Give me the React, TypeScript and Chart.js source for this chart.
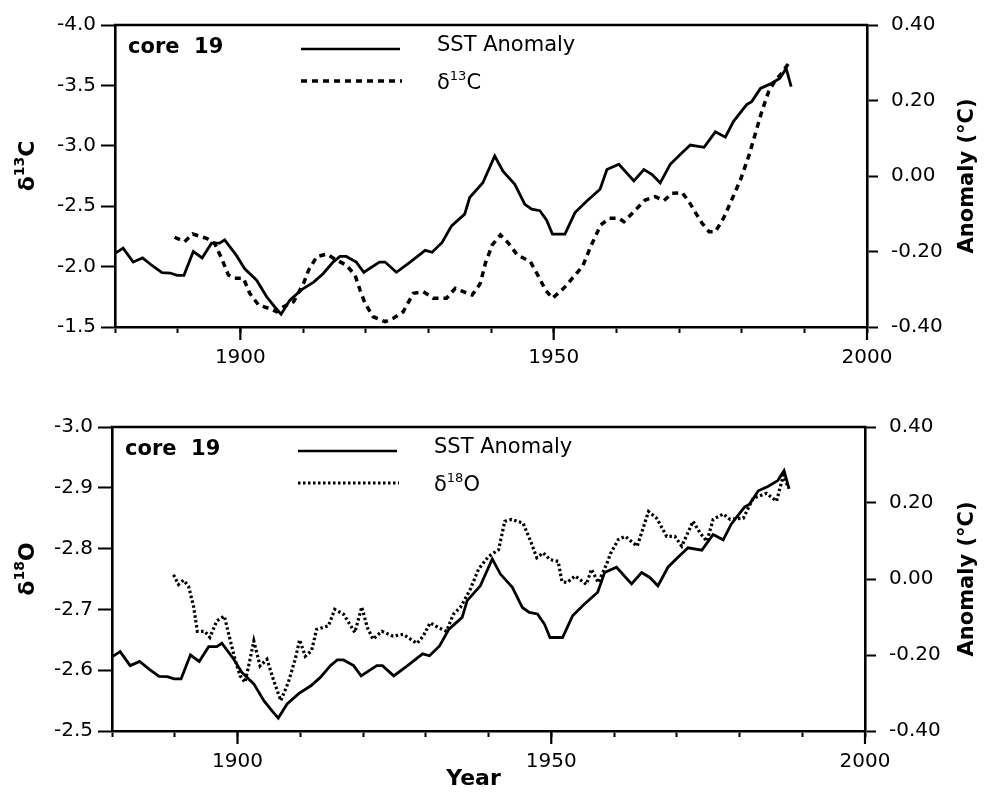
import React, { useEffect, useRef } from 'react';
import { Chart, registerables } from 'chart.js';

Chart.register(...registerables);

const FONT = "'DejaVu Sans', sans-serif";

// SST anomaly (°C), same series in both panels
const sstYears = [1880.0, 1881.3, 1882.9, 1884.4, 1885.9, 1887.5, 1888.8, 1889.9, 1891.0, 1892.5, 1893.9, 1895.4, 1896.7, 1897.5, 1899.4, 1900.7, 1902.6, 1904.2, 1905.5, 1906.5, 1907.9, 1909.8, 1911.7, 1913.2, 1914.8, 1915.9, 1916.9, 1918.5, 1919.7, 1922.2, 1923.1, 1924.9, 1927.1, 1929.5, 1930.6, 1932.2, 1933.7, 1935.8, 1936.6, 1938.7, 1940.6, 1941.9, 1943.8, 1945.4, 1946.5, 1947.8, 1948.9, 1949.8, 1951.8, 1953.4, 1955.3, 1957.4, 1958.5, 1960.4, 1962.8, 1964.4, 1965.7, 1967.0, 1968.6, 1970.2, 1971.8, 1974.0, 1975.8, 1977.4, 1978.7, 1980.8, 1981.6, 1983.0, 1984.6, 1986.1, 1987.1, 1987.9];
const sstValues = [-0.205, -0.191, -0.228, -0.217, -0.237, -0.256, -0.257, -0.263, -0.263, -0.2, -0.217, -0.178, -0.178, -0.169, -0.211, -0.246, -0.276, -0.32, -0.347, -0.366, -0.329, -0.301, -0.281, -0.259, -0.228, -0.213, -0.213, -0.228, -0.255, -0.228, -0.228, -0.255, -0.228, -0.197, -0.202, -0.176, -0.132, -0.101, -0.057, -0.018, 0.053, 0.013, -0.022, -0.075, -0.088, -0.092, -0.118, -0.154, -0.154, -0.097, -0.066, -0.035, 0.017, 0.031, -0.013, 0.017, 0.004, -0.018, 0.031, 0.057, 0.082, 0.076, 0.117, 0.103, 0.145, 0.189, 0.197, 0.232, 0.244, 0.259, 0.285, 0.237];

// delta 13C, core 19
const d13cYears = [1889.5, 1891.1, 1892.4, 1894.6, 1895.9, 1897.0, 1898.1, 1899.1, 1900.5, 1901.5, 1902.9, 1904.5, 1905.8, 1906.9, 1908.5, 1910.1, 1910.9, 1912.2, 1913.8, 1915.3, 1916.9, 1918.3, 1919.1, 1919.9, 1921.2, 1923.1, 1924.4, 1926.0, 1927.6, 1929.2, 1930.8, 1932.9, 1934.3, 1935.6, 1937.0, 1938.3, 1939.1, 1940.2, 1941.5, 1942.8, 1944.2, 1946.3, 1947.6, 1948.7, 1949.8, 1951.6, 1953.2, 1954.6, 1955.9, 1957.5, 1958.9, 1960.4, 1961.2, 1962.8, 1964.6, 1966.2, 1967.6, 1968.9, 1970.5, 1971.6, 1972.7, 1973.7, 1974.8, 1975.8, 1977.1, 1978.4, 1979.8, 1981.1, 1982.2, 1983.2, 1984.3, 1985.4, 1986.4, 1987.1, 1987.9];
const d13cValues = [-2.243, -2.206, -2.27, -2.234, -2.193, -2.069, -1.93, -1.903, -1.903, -1.779, -1.682, -1.655, -1.627, -1.668, -1.71, -1.862, -1.972, -2.082, -2.104, -2.055, -2.013, -1.93, -1.806, -1.696, -1.585, -1.544, -1.572, -1.627, -1.779, -1.792, -1.738, -1.738, -1.82, -1.792, -1.765, -1.862, -2.027, -2.179, -2.262, -2.193, -2.096, -2.041, -1.917, -1.806, -1.738, -1.82, -1.917, -2.0, -2.165, -2.344, -2.4, -2.4, -2.372, -2.455, -2.551, -2.579, -2.546, -2.607, -2.612, -2.537, -2.441, -2.358, -2.289, -2.289, -2.4, -2.551, -2.717, -2.91, -3.103, -3.282, -3.448, -3.545, -3.6, -3.655, -3.71];

// delta 18O, core 19
const d18oYears = [1889.8, 1890.6, 1891.4, 1892.2, 1893.0, 1893.6, 1894.8, 1895.6, 1896.7, 1897.9, 1898.8, 1899.6, 1900.4, 1901.2, 1902.0, 1902.6, 1903.6, 1904.7, 1905.7, 1906.9, 1908.1, 1909.2, 1909.9, 1910.8, 1911.8, 1912.6, 1914.5, 1915.5, 1916.9, 1918.7, 1919.8, 1920.7, 1921.6, 1923.0, 1924.8, 1926.4, 1928.6, 1929.6, 1930.7, 1932.0, 1933.3, 1934.4, 1935.5, 1937.1, 1938.4, 1940.0, 1941.6, 1942.6, 1943.7, 1945.5, 1946.6, 1947.7, 1948.7, 1949.8, 1951.1, 1951.7, 1952.5, 1953.8, 1955.6, 1956.4, 1957.5, 1958.8, 1959.5, 1960.7, 1961.8, 1963.7, 1965.5, 1966.8, 1968.4, 1969.7, 1970.8, 1972.6, 1973.7, 1974.8, 1975.8, 1977.4, 1978.5, 1980.6, 1982.2, 1984.3, 1985.9, 1987.0, 1987.8];
const d18oValues = [-2.757, -2.741, -2.748, -2.738, -2.705, -2.664, -2.664, -2.654, -2.681, -2.689, -2.651, -2.618, -2.591, -2.58, -2.618, -2.648, -2.607, -2.618, -2.585, -2.55, -2.58, -2.618, -2.65, -2.623, -2.632, -2.667, -2.673, -2.7, -2.692, -2.662, -2.704, -2.67, -2.651, -2.664, -2.656, -2.659, -2.644, -2.656, -2.678, -2.67, -2.664, -2.692, -2.703, -2.733, -2.766, -2.787, -2.798, -2.845, -2.848, -2.842, -2.815, -2.785, -2.793, -2.782, -2.779, -2.746, -2.744, -2.755, -2.741, -2.766, -2.744, -2.774, -2.793, -2.815, -2.82, -2.804, -2.861, -2.85, -2.82, -2.82, -2.804, -2.845, -2.826, -2.812, -2.848, -2.857, -2.848, -2.85, -2.883, -2.891, -2.878, -2.921, -2.9];

// axes
const xTickValues = [1880, 1890, 1900, 1910, 1920, 1930, 1940, 1950, 1960, 1970, 1980, 1990, 2000];
const xTickLabels = [1900, 1950, 2000];
const d13cTicks = [-4.0, -3.5, -3.0, -2.5, -2.0, -1.5];
const d18oTicks = [-3.0, -2.9, -2.8, -2.7, -2.6, -2.5];
const anomalyTicks = [-0.4, -0.2, 0.0, 0.2, 0.4];

type PanelOpts = {
  isoYears: number[];
  isoValues: number[];
  isoTicks: number[];
  isoDash: number[];
  isoWidth: number;
  isoSup: string;
  isoBase: string;
  leftWidth: number;
  rightWidth: number;
  topPad: number;
  bottomHeight: number;
  showYear: boolean;
};

function drawSup(ctx: CanvasRenderingContext2D, a: string, sup: string, b: string, x: number, y: number, size: number, bold: boolean, center: boolean) {
  const w8 = bold ? 'bold ' : '';
  const main = `${w8}${size}px ${FONT}`;
  const small = `${w8}${Math.round(size * 0.62)}px ${FONT}`;
  ctx.font = main;
  const wa = ctx.measureText(a).width;
  const wb = ctx.measureText(b).width;
  ctx.font = small;
  const ws = ctx.measureText(sup).width;
  let sx = center ? x - (wa + ws + wb) / 2 : x;
  ctx.textAlign = 'left';
  ctx.font = main;
  ctx.fillText(a, sx, y);
  sx += wa;
  ctx.font = small;
  ctx.fillText(sup, sx, y - size * 0.36);
  sx += ws;
  ctx.font = main;
  ctx.fillText(b, sx, y);
}

function decorPlugin(p: PanelOpts) {
  return {
    id: 'decor',
    afterDraw(chart: any) {
      const { ctx, chartArea: a, scales } = chart;
      const xs = scales.x;
      ctx.save();
      ctx.strokeStyle = '#000';
      ctx.fillStyle = '#000';
      ctx.lineCap = 'butt';
      // top frame line
      ctx.lineWidth = 2.5;
      ctx.setLineDash([]);
      ctx.beginPath();
      ctx.moveTo(a.left - 1.25, a.top);
      ctx.lineTo(a.right + 1.25, a.top);
      ctx.stroke();
      // long major ticks
      ctx.lineWidth = 2.2;
      xTickLabels.forEach((v) => {
        const px = xs.getPixelForValue(v);
        ctx.beginPath();
        ctx.moveTo(px, a.bottom);
        ctx.lineTo(px, a.bottom + 13);
        ctx.stroke();
      });
      // legend block
      ctx.textBaseline = 'middle';
      ctx.textAlign = 'left';
      ctx.font = `bold 21px ${FONT}`;
      ctx.fillText('core  19', a.left + 13, a.top + 23);
      ctx.lineWidth = 2.5;
      ctx.beginPath();
      ctx.moveTo(a.left + 186, a.top + 24);
      ctx.lineTo(a.left + 285, a.top + 24);
      ctx.stroke();
      ctx.font = `21px ${FONT}`;
      ctx.fillText('SST Anomaly', a.left + 322, a.top + 21);
      ctx.lineWidth = p.isoWidth;
      ctx.setLineDash(p.isoDash);
      ctx.beginPath();
      ctx.moveTo(a.left + 186, a.top + 56);
      ctx.lineTo(a.left + 287, a.top + 56);
      ctx.stroke();
      ctx.setLineDash([]);
      drawSup(ctx, 'δ', p.isoSup, p.isoBase, a.left + 322, a.top + 59, 21, false, false);
      // axis titles
      const midY = (a.top + a.bottom) / 2;
      ctx.save();
      ctx.translate(28, midY - 10);
      ctx.rotate(-Math.PI / 2);
      drawSup(ctx, 'δ', p.isoSup, p.isoBase, 0, 0, 22, true, true);
      ctx.restore();
      ctx.save();
      ctx.translate(chart.width - 17, midY);
      ctx.rotate(-Math.PI / 2);
      ctx.textAlign = 'center';
      ctx.font = `bold 21px ${FONT}`;
      ctx.fillText('Anomaly (°C)', 0, 0);
      ctx.restore();
      if (p.showYear) {
        ctx.textAlign = 'center';
        ctx.font = `bold 22px ${FONT}`;
        ctx.fillText('Year', (a.left + a.right) / 2 - 15, a.bottom + 48);
      }
      ctx.restore();
    },
  };
}

function makeConfig(p: PanelOpts): any {
  const tickFont = { family: FONT, size: 20 };
  const sstData = sstYears.map((x, i) => ({ x, y: sstValues[i] }));
  const isoData = p.isoYears.map((x, i) => ({ x, y: p.isoValues[i] }));
  return {
    type: 'line',
    data: {
      datasets: [
        {
          label: 'SST Anomaly',
          data: sstData,
          yAxisID: 'yR',
          borderColor: '#000',
          borderWidth: 2.8,
          pointRadius: 0,
          tension: 0,
          fill: false,
        },
        {
          label: 'δ' + p.isoSup + p.isoBase,
          data: isoData,
          yAxisID: 'yL',
          borderColor: '#000',
          borderWidth: p.isoWidth,
          borderDash: p.isoDash,
          borderCapStyle: 'butt',
          pointRadius: 0,
          tension: 0,
          fill: false,
        },
      ],
    },
    options: {
      animation: false,
      responsive: false,
      maintainAspectRatio: false,
      layout: { padding: { top: p.topPad, left: 0, right: 0, bottom: 0 } },
      plugins: { legend: { display: false }, tooltip: { enabled: false }, title: { display: false } },
      scales: {
        x: {
          type: 'linear',
          position: 'bottom',
          min: 1880,
          max: 2000,
          afterBuildTicks: (s: any) => {
            s.ticks = xTickValues.map((v) => ({ value: v }));
          },
          afterFit: (s: any) => {
            s.height = p.bottomHeight;
          },
          ticks: {
            autoSkip: false,
            maxRotation: 0,
            minRotation: 0,
            padding: 13,
            color: '#000',
            font: tickFont,
            callback: (v: any) => (xTickLabels.includes(Number(v)) ? String(v) : ''),
          },
          grid: { display: true, drawOnChartArea: false, drawTicks: true, tickLength: 6, tickWidth: 2, tickColor: '#000', color: '#000' },
          border: { display: true, color: '#000', width: 2.6 },
        },
        yL: {
          type: 'linear',
          position: 'left',
          reverse: true,
          min: p.isoTicks[0],
          max: p.isoTicks[p.isoTicks.length - 1],
          afterBuildTicks: (s: any) => {
            s.ticks = p.isoTicks.map((v) => ({ value: v }));
          },
          afterFit: (s: any) => {
            s.width = p.leftWidth;
          },
          ticks: {
            padding: 5,
            color: '#000',
            font: tickFont,
            callback: (v: any) => Number(v).toFixed(1),
          },
          grid: { display: true, drawOnChartArea: false, drawTicks: true, tickLength: 14, tickWidth: 2, tickColor: '#000', color: '#000' },
          border: { display: true, color: '#000', width: 2.6 },
        },
        yR: {
          type: 'linear',
          position: 'right',
          min: anomalyTicks[0],
          max: anomalyTicks[anomalyTicks.length - 1],
          afterBuildTicks: (s: any) => {
            s.ticks = anomalyTicks.map((v) => ({ value: v }));
          },
          afterFit: (s: any) => {
            s.width = p.rightWidth;
          },
          ticks: {
            padding: 13,
            color: '#000',
            font: tickFont,
            callback: (v: any) => Number(v).toFixed(2),
          },
          grid: { display: true, drawOnChartArea: false, drawTicks: true, tickLength: 11, tickWidth: 2, tickColor: '#000', color: '#000' },
          border: { display: true, color: '#000', width: 2.6 },
        },
      },
    },
    plugins: [decorPlugin(p)],
  };
}

function Panel({ opts, height, top }: { opts: PanelOpts; height: number; top: number }) {
  const ref = useRef<HTMLCanvasElement | null>(null);
  useEffect(() => {
    if (!ref.current) return;
    const chart = new Chart(ref.current, makeConfig(opts));
    return () => chart.destroy();
  }, []);
  return (
    <canvas
      ref={ref}
      width={985}
      height={height}
      style={{ position: 'absolute', left: 0, top, width: 985, height, display: 'block' }}
    />
  );
}

const topPanel: PanelOpts = {
  isoYears: d13cYears,
  isoValues: d13cValues,
  isoTicks: d13cTicks,
  isoDash: [6, 5],
  isoWidth: 3.5,
  isoSup: '13',
  isoBase: 'C',
  leftWidth: 115,
  rightWidth: 118,
  topPad: 25,
  bottomHeight: 73,
  showYear: false,
};

const bottomPanel: PanelOpts = {
  isoYears: d18oYears,
  isoValues: d18oValues,
  isoTicks: d18oTicks,
  isoDash: [2.5, 2.5],
  isoWidth: 3.2,
  isoSup: '18',
  isoBase: 'O',
  leftWidth: 112,
  rightWidth: 120,
  topPad: 27,
  bottomHeight: 62,
  showYear: true,
};

export default function App() {
  return (
    <div style={{ position: 'absolute', left: 0, top: 0, width: 985, height: 793, background: '#fff', overflow: 'hidden' }}>
      <Panel opts={topPanel} height={400} top={0} />
      <Panel opts={bottomPanel} height={393} top={400} />
    </div>
  );
}
